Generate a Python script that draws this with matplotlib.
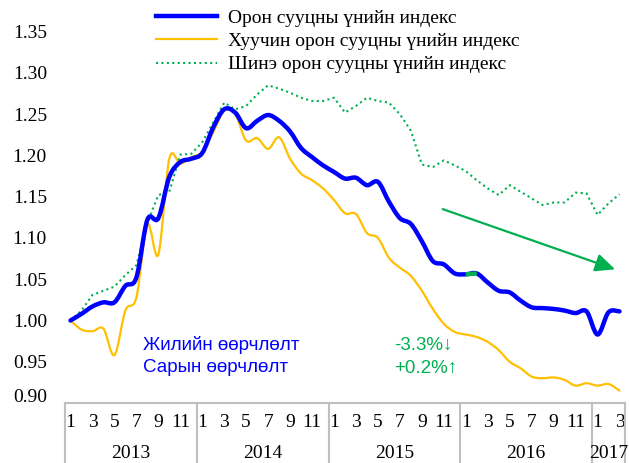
import matplotlib
matplotlib.use('Agg')
import matplotlib.pyplot as plt
from matplotlib.path import Path
from matplotlib.patches import PathPatch
import matplotlib.transforms as mtransforms

# Өгөгдөл (2013.01 - 2017.03)
years = ['2013', '2014', '2015', '2016', '2017']
months_in_year = [12, 12, 12, 12, 3]

total_index = [1.000, 1.008, 1.017, 1.022, 1.022, 1.042, 1.052, 1.122, 1.124, 1.174, 1.192, 1.196,
               1.203, 1.234, 1.256, 1.252, 1.233, 1.242, 1.249, 1.242, 1.229, 1.209, 1.198, 1.188,
               1.180, 1.172, 1.173, 1.164, 1.168, 1.144, 1.124, 1.117, 1.096, 1.072, 1.068, 1.057,
               1.056, 1.057, 1.046, 1.036, 1.034, 1.024, 1.016, 1.015, 1.014, 1.012, 1.009, 1.011,
               0.983, 1.010, 1.011]
old_index = [1.000, 0.989, 0.987, 0.990, 0.958, 1.012, 1.028, 1.116, 1.080, 1.196, 1.190, 1.198,
             1.204, 1.228, 1.254, 1.250, 1.218, 1.221, 1.208, 1.222, 1.196, 1.178, 1.170, 1.160,
             1.146, 1.130, 1.129, 1.106, 1.100, 1.076, 1.064, 1.054, 1.036, 1.014, 0.996, 0.986,
             0.983, 0.980, 0.974, 0.964, 0.950, 0.942, 0.932, 0.930, 0.931, 0.928, 0.921, 0.924,
             0.921, 0.923, 0.915]
new_index = [1.000, 1.012, 1.031, 1.036, 1.041, 1.055, 1.067, 1.118, 1.152, 1.156, 1.201, 1.202,
             1.216, 1.240, 1.264, 1.256, 1.260, 1.274, 1.285, 1.281, 1.276, 1.270, 1.266, 1.266,
             1.270, 1.252, 1.260, 1.270, 1.266, 1.264, 1.250, 1.230, 1.189, 1.186, 1.194, 1.188,
             1.181, 1.170, 1.160, 1.152, 1.164, 1.156, 1.148, 1.140, 1.143, 1.143, 1.155, 1.154,
             1.128, 1.142, 1.153]

labels = ['Орон сууцны үнийн индекс', 'Хуучин орон сууцны үнийн индекс', 'Шинэ орон сууцны үнийн индекс']
annual_change = '-3.3%↓'
monthly_change = '+0.2%↑'

BLUE = '#0000FF'
YELLOW = '#FFC000'
GREEN = '#00B050'
GRAY = '#BFBFBF'


def smooth_path(xs, ys):
    # Excel маягийн зөөлрүүлсэн шугам (Catmull-Rom -> Bezier)
    n = len(xs)
    verts = [(xs[0], ys[0])]
    codes = [Path.MOVETO]
    for i in range(n - 1):
        x0, y0 = xs[max(i - 1, 0)], ys[max(i - 1, 0)]
        x1, y1 = xs[i], ys[i]
        x2, y2 = xs[i + 1], ys[i + 1]
        x3, y3 = xs[min(i + 2, n - 1)], ys[min(i + 2, n - 1)]
        verts += [(x1 + (x2 - x0) / 6, y1 + (y2 - y0) / 6),
                  (x2 - (x3 - x1) / 6, y2 - (y3 - y1) / 6),
                  (x2, y2)]
        codes += [Path.CURVE4] * 3
    return Path(verts, codes)


plt.rcParams['font.family'] = ['Liberation Serif', 'DejaVu Serif']

fig = plt.figure(figsize=(6.29, 4.63), dpi=100)
ax = fig.add_axes([65 / 629, 1 - 403 / 463, 560 / 629, (403 - 31.7) / 463])

x = list(range(len(total_index)))

ax.add_patch(PathPatch(smooth_path(x, old_index), fill=False, ec=YELLOW, lw=1.6,
                       capstyle='round', joinstyle='round', zorder=3))
ax.plot(x, new_index, color=GREEN, lw=1.5, linestyle=(0, (1, 1.6)), zorder=3)
ax.add_patch(PathPatch(smooth_path(x, total_index), fill=False, ec=BLUE, lw=3.2,
                       capstyle='round', joinstyle='round', zorder=4))
# жижиг ногоон хэсэг
ax.add_patch(PathPatch(smooth_path(x[36:38], total_index[36:38]), fill=False, ec=GREEN,
                       lw=3.2, zorder=5))

# legend handles
h1, = ax.plot([], [], color=BLUE, lw=3.2)
h2, = ax.plot([], [], color=YELLOW, lw=1.6)
h3, = ax.plot([], [], color=GREEN, lw=1.5, linestyle=(0, (1, 1.6)))
fig.legend([h1, h2, h3], labels, loc='upper left', bbox_to_anchor=(0.227, 1.01),
           frameon=False, fontsize=14, handlelength=3.1, handletextpad=0.6,
           labelspacing=0.3, borderpad=0.2)

# чиг хандлагын сум
ax.annotate('', xy=(49.6, 1.062), xytext=(33.9, 1.135),
            arrowprops=dict(arrowstyle='-|>,head_length=1.2,head_width=0.55',
                            color=GREEN, lw=1.6, shrinkA=0, shrinkB=0))

sans = ['Liberation Sans', 'DejaVu Sans']
ax.text(6.6, 0.970, 'Жилийн өөрчлөлт', color=BLUE, fontsize=13.5, family=sans, va='center')
ax.text(6.6, 0.9425, 'Сарын өөрчлөлт', color=BLUE, fontsize=13.5, family=sans, va='center')
ax.text(29.5, 0.970, annual_change, color=GREEN, fontsize=13.5, family=sans, va='center')
ax.text(29.5, 0.9425, monthly_change, color=GREEN, fontsize=13.5, family=sans, va='center')

ax.set_xlim(-0.5, len(x) - 0.5)
ax.set_ylim(0.90, 1.35)
ax.set_yticks([0.90, 0.95, 1.00, 1.05, 1.10, 1.15, 1.20, 1.25, 1.30, 1.35])
ax.set_yticklabels(['%.2f' % v for v in ax.get_yticks()], fontsize=14)
ax.tick_params(axis='y', length=0, pad=13)
# 0.90 шошго бага зэрэг дээш
first = ax.get_yticklabels()[0]
first.set_transform(first.get_transform() + mtransforms.ScaledTranslation(0, 8 / 100, fig.dpi_scale_trans))

tick_pos = []
tick_lab = []
pos = 0
for n in months_in_year:
    for m in range(1, n + 1, 2):
        tick_pos.append(pos + m - 1)
        tick_lab.append(str(m))
    pos += n
ax.set_xticks(tick_pos)
ax.set_xticklabels(tick_lab, fontsize=14)
ax.tick_params(axis='x', length=0, pad=8)

for s in ['left', 'right', 'top']:
    ax.spines[s].set_visible(False)
ax.spines['bottom'].set_color(GRAY)
ax.spines['bottom'].set_linewidth(1.5)

# жилийн хайрцаг
trans = mtransforms.blended_transform_factory(ax.transData, ax.transAxes)
bottom = -60 / (403 - 31.7)
pos = 0
bounds = [-0.5]
for yr, n in zip(years, months_in_year):
    ax.text(pos + n / 2 - 0.5, -50 / (403 - 31.7), yr, transform=trans,
            ha='center', va='center', fontsize=14)
    pos += n
    bounds.append(pos - 0.5)
for b in bounds:
    ax.plot([b, b], [0, bottom], transform=trans, color=GRAY, lw=1.5, clip_on=False)

fig.savefig('out.png', dpi=100)
